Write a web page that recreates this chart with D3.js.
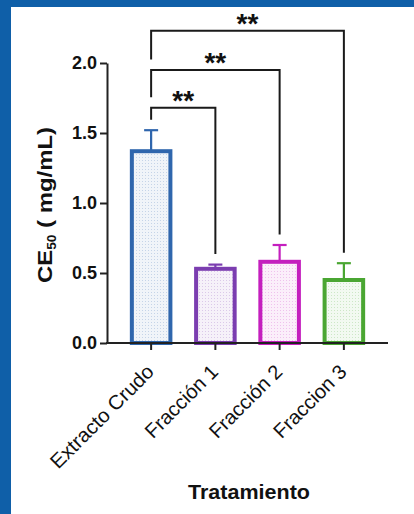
<!DOCTYPE html>
<html><head><meta charset="utf-8">
<script src="https://cdn.jsdelivr.net/npm/d3@7"></script>
<style>
body{margin:0;background:#fff}
svg{display:block}
text{font-family:Arial,"Liberation Sans",Helvetica,sans-serif;fill:#111}
</style></head><body>
<script>
// ---- data ----
const categories = ["Extracto Crudo", "Fracción 1", "Fracción 2", "Fraccion 3"];
const means = [1.37, 0.53, 0.58, 0.45];
const errors = [0.15, 0.03, 0.12, 0.12];
const colors = ["#2f66ad", "#7b3db0", "#c41fbe", "#4aa632"];
const yTicks = [0, 0.5, 1.0, 1.5, 2.0];
const compFrom = [0, 0, 0];
const compTo = [1, 2, 3];
const compLabels = ["**", "**", "**"];
const compLevels = [1.68, 1.95, 2.23];
const yTitleMain = "CE", yTitleSub = "50", yTitleRest = " ( mg/mL)";
const xTitle = "Tratamiento";

// ---- layout ----
const W = 414, H = 514;
const svg = d3.select("body").append("svg").attr("width", W).attr("height", H);
svg.append("rect").attr("width", W).attr("height", H).attr("fill", "#fff");
svg.append("rect").attr("x", 0).attr("y", 0).attr("width", 11).attr("height", H).attr("fill", "#0f5fa8");
svg.append("rect").attr("x", 0).attr("y", 0).attr("width", W).attr("height", 7).attr("fill", "#0f5fa8");

const y = d3.scaleLinear().domain([0, 2]).range([343, 63]);
const x = d3.scaleBand().domain(categories).range([119, 376]).paddingInner(0.4).paddingOuter(0.2);
const cx = c => x(c) + x.bandwidth() / 2;
const axisX0 = 107, axisX1 = 388;

// patterns
const defs = svg.append("defs");
colors.forEach((c, i) => {
  const p = defs.append("pattern").attr("id", "pat" + i).attr("patternUnits", "userSpaceOnUse")
    .attr("width", 3).attr("height", 3);
  p.append("rect").attr("width", 3).attr("height", 3).attr("fill", c).attr("fill-opacity", 0.07);
  p.append("rect").attr("x", 1).attr("y", 1).attr("width", 1).attr("height", 1).attr("fill", c).attr("fill-opacity", 0.22);
});

// error bars
const eb = svg.append("g");
categories.forEach((c, i) => {
  eb.append("line").attr("x1", cx(c)).attr("x2", cx(c))
    .attr("y1", y(means[i])).attr("y2", y(means[i] + errors[i]))
    .attr("stroke", colors[i]).attr("stroke-width", 2.2);
  eb.append("line").attr("x1", cx(c) - 7).attr("x2", cx(c) + 7)
    .attr("y1", y(means[i] + errors[i])).attr("y2", y(means[i] + errors[i]))
    .attr("stroke", colors[i]).attr("stroke-width", 2.2);
});

// bars
svg.append("g").selectAll("rect").data(categories).join("rect")
  .attr("x", c => x(c)).attr("width", x.bandwidth())
  .attr("y", (c, i) => y(means[i])).attr("height", (c, i) => y(0) - y(means[i]))
  .attr("fill", (c, i) => `url(#pat${i})`)
  .attr("stroke", (c, i) => colors[i]).attr("stroke-width", 4);

// y axis
const yAxis = svg.append("g").attr("transform", `translate(${axisX0},0)`)
  .call(d3.axisLeft(y).tickValues(yTicks).tickFormat(d3.format(".1f")).tickSize(7).tickSizeOuter(0).tickPadding(3));
yAxis.select(".domain").attr("stroke", "#222").attr("stroke-width", 2);
yAxis.selectAll(".tick line").attr("stroke", "#222").attr("stroke-width", 2);
yAxis.selectAll(".tick text").attr("font-size", 18).attr("font-weight", "bold")
  .attr("font-family", "Arial, 'Liberation Sans', sans-serif").attr("fill", "#111");

// x axis
const xAxis = svg.append("g").attr("transform", `translate(0,${y(0)})`);
xAxis.append("line").attr("x1", axisX0 - 1).attr("x2", axisX1).attr("stroke", "#222").attr("stroke-width", 2);
xAxis.selectAll("line.tk").data(categories).join("line").attr("class", "tk")
  .attr("x1", c => cx(c)).attr("x2", c => cx(c)).attr("y1", 0).attr("y2", 7)
  .attr("stroke", "#222").attr("stroke-width", 2);

const xLabelTargets = [137, 94, 94, 94];
categories.forEach((c, i) => {
  const g = svg.append("g");
  const t = g.append("text").attr("text-anchor", "end").attr("font-size", 20).text(c);
  const k = xLabelTargets[i] / t.node().getComputedTextLength();
  g.attr("transform", `translate(${cx(c) + 4},373) rotate(-45) scale(${k},1)`);
});

// y title
{
  const g = svg.append("g");
  const t = g.append("text").attr("text-anchor", "middle").attr("font-size", 21).attr("font-weight", "bold");
  t.append("tspan").text(yTitleMain);
  t.append("tspan").attr("font-size", 12).attr("dy", 4).text(yTitleSub);
  t.append("tspan").attr("dy", -4).text(yTitleRest);
  const k = 156 / t.node().getComputedTextLength();
  g.attr("transform", `translate(52,205) rotate(-90) scale(${k},1)`);
}
// x title
{
  const g = svg.append("g");
  const t = g.append("text").attr("text-anchor", "middle").attr("font-size", 20).attr("font-weight", "bold").text(xTitle);
  const k = 122 / t.node().getComputedTextLength();
  g.attr("transform", `translate(249,499) scale(${k},1)`);
}

// significance brackets
const gap = 0.075;
const br = svg.append("g");
compLevels.forEach((lv, j) => {
  const a = compFrom[j], b = compTo[j];
  const leftBottom = j === 0 ? means[a] + errors[a] + gap : compLevels[j - 1] + gap;
  const rightBottom = means[b] + errors[b] + gap;
  const xa = cx(categories[a]), xb = cx(categories[b]);
  br.append("path")
    .attr("d", d3.line()([[xa, y(leftBottom)], [xa, y(lv)], [xb, y(lv)], [xb, y(rightBottom)]]))
    .attr("fill", "none").attr("stroke", "#1a1a1a").attr("stroke-width", 2);
  br.append("text").attr("x", (xa + xb) / 2).attr("y", y(lv) + 2)
    .attr("text-anchor", "middle").attr("font-size", 28).attr("font-weight", "bold").text(compLabels[j]);
});
</script>
</body></html>
